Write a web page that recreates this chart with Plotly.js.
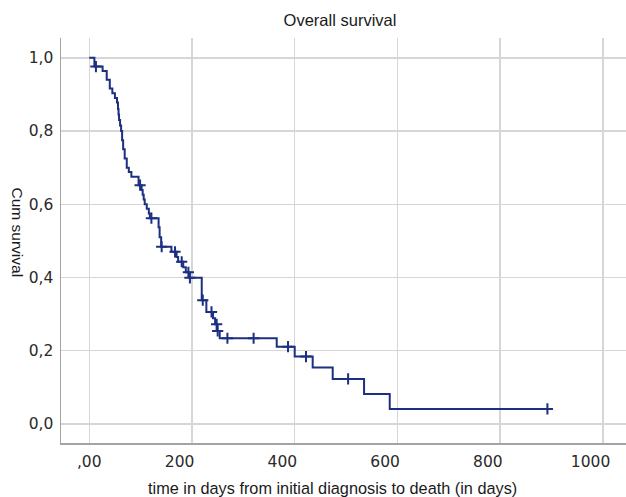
<!DOCTYPE html>
<html>
<head>
<meta charset="utf-8">
<script src="https://cdn.plot.ly/plotly-3.0.1.min.js"></script>
<style>html,body{margin:0;padding:0;background:#fff;}#chart{width:626px;height:497px;}</style>
</head>
<body>
<div id="chart"></div>
<script>
// Kaplan-Meier steps: time of drop (days) and survival after the drop
const stepTimes = [10,26,34,40,45,50,54,56,57,58,60,62,64,66,69,73,77,82,96,102,104,106,108,112,116,118,135,137,140,160,170,173,183,188,195,219,228,241,245,249,254,365,400,435,474,535,585];
const stepSurv  = [0.976,0.964,0.94,0.916,0.903,0.89,0.878,0.86,0.845,0.83,0.815,0.80,0.775,0.75,0.725,0.70,0.688,0.675,0.652,0.639,0.626,0.613,0.600,0.588,0.575,0.562,0.537,0.51,0.484,0.470,0.456,0.443,0.428,0.414,0.399,0.338,0.306,0.289,0.272,0.254,0.234,0.211,0.184,0.154,0.123,0.082,0.041];
// censored observations
const censorTimes = [13,99,121,141,167,180,193,196,221,238,248,250,269,320,387,422,504,892];
const censorSurv  = [0.976,0.652,0.562,0.484,0.470,0.443,0.414,0.399,0.338,0.306,0.272,0.254,0.234,0.234,0.211,0.184,0.123,0.041];
// axis ticks
const xTicks = [0,200,400,600,800,1000];
const xTickText = [",00","200","400","600","800","1000"];
const yTicks = [0,0.2,0.4,0.6,0.8,1.0];
const yTickText = ["0,0","0,2","0,4","0,6","0,8","1,0"];

const startTime = 0, startSurv = 1.0;
const lastTime = censorTimes[censorTimes.length-1];
const lastSurv = censorSurv[censorSurv.length-1];

const navy = '#1d2f80';
const curve = {
  x: [startTime].concat(stepTimes, [lastTime]),
  y: [startSurv].concat(stepSurv, [lastSurv]),
  type: 'scatter', mode: 'lines',
  line: {shape: 'hv', color: navy, width: 2},
  hoverinfo: 'x+y', showlegend: false
};
const censored = {
  x: censorTimes, y: censorSurv,
  type: 'scatter', mode: 'markers',
  marker: {symbol: 'cross-thin', size: 8, color: navy, line: {color: navy, width: 2}},
  showlegend: false
};
// label positions for x ticks (labels sit slightly left of their grid lines)
const labelShift = xTicks.map((v,i) => i === 0 ? 0 : 24);
const xLabelPos = xTicks.map((v,i) => v - labelShift[i]);
const dummy = {x: [xTicks[0]], y: [null], xaxis: 'x2', yaxis: 'y', type: 'scatter', mode: 'lines', showlegend: false, hoverinfo: 'skip'};

const xRange = [-55, 1045];
const tickFont = {family: 'DejaVu Sans', size: 15.5, color: '#2a2a2a'};
const textFont = {family: 'Liberation Sans', size: 16.3, color: '#1a1a1a'};
const layout = {
  width: 626, height: 497,
  margin: {l: 61, r: 0, t: 38, b: 54, pad: 0},
  paper_bgcolor: '#fff', plot_bgcolor: '#fff',
  showlegend: false,
  title: {text: 'Overall survival', font: {family: 'Liberation Sans', size: 16.5, color: '#1a1a1a'},
          x: (340-61)/565, xref: 'paper', xanchor: 'center', y: 1 - 20/497, yref: 'container', yanchor: 'middle'},
  xaxis: {
    range: xRange, tickvals: xTicks, showticklabels: false,
    showgrid: true, gridcolor: '#d6d6d6', gridwidth: 1.5,
    zeroline: false, showline: true, linecolor: '#a3a3a3', linewidth: 1.5,
    ticks: '', fixedrange: true
  },
  xaxis2: {
    range: xRange, overlaying: 'x', anchor: 'y', side: 'bottom',
    tickvals: xLabelPos, ticktext: xTickText, tickfont: tickFont,
    showgrid: false, zeroline: false, showline: false, ticks: '', ticklabelstandoff: 7
  },
  yaxis: {
    range: [-0.052, 1.054], tickvals: yTicks, ticktext: yTickText, tickfont: tickFont,
    showgrid: true, gridcolor: '#d6d6d6', gridwidth: 1.5,
    zeroline: false, showline: true, linecolor: '#a3a3a3', linewidth: 1.5,
    ticks: '', ticklabelstandoff: 3, fixedrange: true
  },
  annotations: [{
    text: 'Cum survival', textangle: 90, showarrow: false,
    xref: 'paper', yref: 'paper', x: (16.5-61)/565, y: (443-232)/405,
    xanchor: 'center', yanchor: 'middle',
    font: {family: 'Liberation Sans', size: 15.5, color: '#1a1a1a'}
  }, {
    text: 'time in days from initial diagnosis to death (in days)', showarrow: false,
    xref: 'paper', yref: 'paper', x: (332.5-61)/565, y: (443-488)/405,
    xanchor: 'center', yanchor: 'middle', font: textFont
  }]
};
Plotly.newPlot('chart', [curve, censored, dummy], layout, {displayModeBar: false, staticPlot: true});
</script>
</body>
</html>
